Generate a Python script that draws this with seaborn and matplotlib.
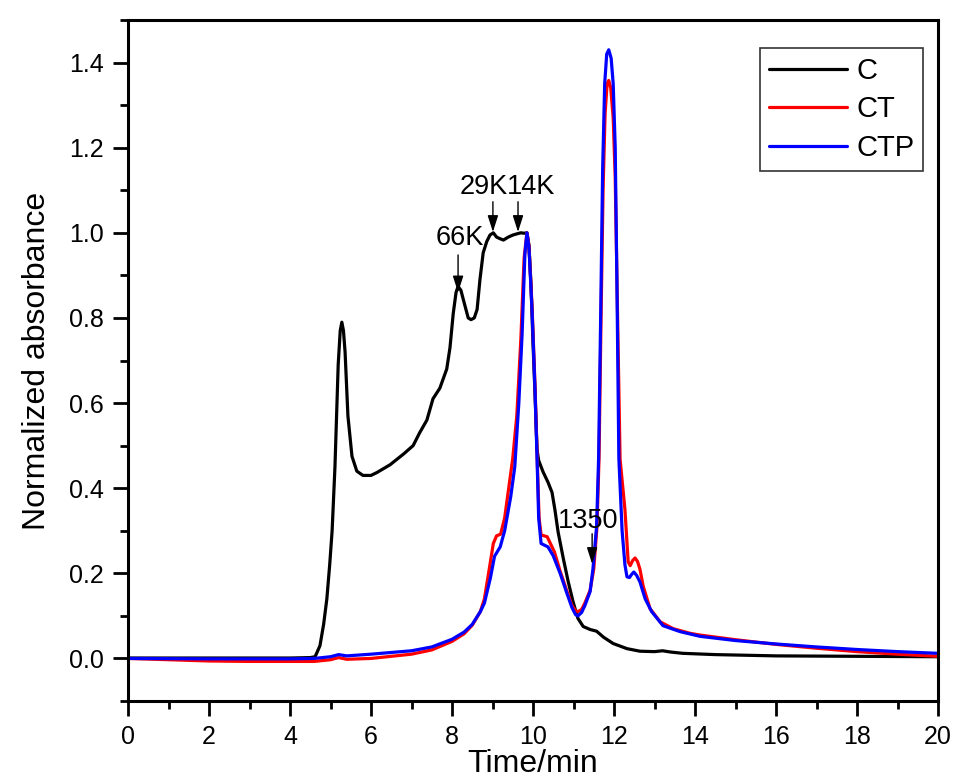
import numpy as np
import pandas as pd
import matplotlib
matplotlib.use("Agg")
import matplotlib.pyplot as plt
from matplotlib.ticker import MultipleLocator
import seaborn as sns

# ---------------- data ----------------
series_names = ["C", "CT", "CTP"]
series_colors = ["#000000", "#ff0000", "#0000ff"]

t_C = [0, 1, 2, 3, 4, 4.5, 4.62, 4.74, 4.83, 4.91, 4.98, 5.04, 5.11, 5.19, 5.24,
       5.28, 5.32, 5.36, 5.43, 5.53, 5.65, 5.8, 6.0, 6.15, 6.47, 6.8, 7.04, 7.2,
       7.38, 7.53, 7.7, 7.87, 7.95, 8.03, 8.1, 8.15, 8.22, 8.28, 8.4, 8.47, 8.55,
       8.62, 8.69, 8.77, 8.86, 8.94, 9.02, 9.1, 9.19, 9.27, 9.39, 9.51, 9.62, 9.7,
       9.78, 9.85, 9.9, 9.95, 10.0, 10.05, 10.1, 10.14, 10.25, 10.37, 10.47, 10.54,
       10.62, 10.75, 10.87, 10.99, 11.11, 11.24, 11.41, 11.57, 11.74, 11.98, 12.32,
       12.64, 13.0, 13.2, 13.4, 13.7, 14.5, 16, 18, 20]
v_C = [0.001, 0.001, 0.001, 0.001, 0.001, 0.002, 0.004, 0.03, 0.08, 0.14, 0.22,
       0.30, 0.45, 0.69, 0.77, 0.79, 0.77, 0.72, 0.57, 0.475, 0.44, 0.43, 0.43,
       0.437, 0.455, 0.48, 0.50, 0.53, 0.56, 0.61, 0.635, 0.68, 0.73, 0.81, 0.86,
       0.874, 0.865, 0.843, 0.80, 0.796, 0.80, 0.82, 0.89, 0.953, 0.98, 0.995, 1.0,
       0.99, 0.986, 0.983, 0.99, 0.995, 0.998, 1.0, 0.999, 1.0, 0.97, 0.88, 0.74,
       0.62, 0.49, 0.465, 0.438, 0.414, 0.39, 0.35, 0.297, 0.234, 0.18, 0.133,
       0.094, 0.075, 0.068, 0.064, 0.05, 0.035, 0.023, 0.017, 0.016, 0.018, 0.015,
       0.012, 0.009, 0.006, 0.005, 0.004]

t_CT = [0, 1, 2, 3, 4, 4.6, 5.0, 5.2, 5.4, 6.0, 7.0, 7.5, 8.0, 8.3, 8.5, 8.7, 8.8,
        8.92, 9.02, 9.1, 9.2, 9.3, 9.4, 9.5, 9.6, 9.7, 9.78, 9.85, 9.9, 9.98, 10.05,
        10.1, 10.15, 10.2, 10.35, 10.53, 10.67, 10.83, 10.96, 11.05, 11.11, 11.2,
        11.28, 11.41, 11.5, 11.58, 11.63, 11.68, 11.73, 11.78, 11.83, 11.87, 11.92,
        11.98, 12.03, 12.08, 12.15, 12.27, 12.35, 12.4, 12.46, 12.52, 12.58, 12.64,
        12.72, 12.89, 13.14, 13.46, 13.88, 14.12, 15, 16, 17, 18, 19, 20]
v_CT = [0.0, -0.003, -0.006, -0.007, -0.007, -0.007, -0.003, 0.002, -0.002, 0.0,
        0.01, 0.02, 0.04, 0.058, 0.078, 0.11, 0.14, 0.21, 0.27, 0.288, 0.292, 0.33,
        0.40, 0.47, 0.57, 0.75, 0.94, 1.0, 0.97, 0.82, 0.64, 0.48, 0.33, 0.29,
        0.286, 0.25, 0.205, 0.16, 0.125, 0.112, 0.11, 0.115, 0.13, 0.16, 0.21,
        0.31, 0.47, 0.8, 1.1, 1.28, 1.35, 1.358, 1.34, 1.27, 1.13, 0.85, 0.468,
        0.35, 0.227, 0.218, 0.23, 0.236, 0.228, 0.21, 0.17, 0.117, 0.086, 0.07,
        0.059, 0.055, 0.044, 0.033, 0.024, 0.016, 0.01, 0.005]

t_CTP = [0, 2, 4, 4.6, 5.0, 5.2, 5.4, 6.0, 7.0, 7.5, 8.0, 8.3, 8.5, 8.7, 8.8, 8.95,
         9.05, 9.19, 9.3, 9.45, 9.55, 9.65, 9.73, 9.8, 9.85, 9.9, 9.98, 10.05, 10.1,
         10.14, 10.2, 10.37, 10.5, 10.67, 10.83, 10.96, 11.05, 11.11, 11.2, 11.28,
         11.41, 11.48, 11.57, 11.62, 11.67, 11.72, 11.77, 11.82, 11.87, 11.93,
         11.98, 12.03, 12.07, 12.12, 12.2, 12.27, 12.32, 12.38, 12.44, 12.49, 12.56,
         12.64, 12.77, 12.93, 13.21, 13.63, 14.12, 15, 16, 17, 18, 19, 20]
v_CTP = [0.0, -0.001, -0.001, 0.0, 0.004, 0.009, 0.006, 0.01, 0.018, 0.027, 0.045,
         0.062, 0.08, 0.11, 0.13, 0.19, 0.24, 0.262, 0.30, 0.38, 0.45, 0.6, 0.76,
         0.95, 1.0, 0.967, 0.81, 0.63, 0.47, 0.33, 0.27, 0.262, 0.241, 0.2, 0.155,
         0.12, 0.103, 0.1, 0.108, 0.124, 0.157, 0.21, 0.31, 0.47, 0.8, 1.15, 1.35,
         1.42, 1.43, 1.41, 1.35, 1.2, 0.9, 0.47, 0.3, 0.22, 0.192, 0.19, 0.198,
         0.203, 0.195, 0.18, 0.14, 0.11, 0.077, 0.063, 0.052, 0.042, 0.034, 0.027,
         0.021, 0.016, 0.012]

# annotations: label, arrow x, arrow tail y, arrow tip y, label x, label y
ann_labels = ["66K", "29K", "14K", "1350"]
ann_x = [8.15, 9.01, 9.63, 11.46]
ann_tail = [0.948, 1.073, 1.073, 0.293]
ann_tip = [0.86, 1.002, 1.002, 0.222]
ann_tx = [8.2, 8.79, 9.95, 11.36]
ann_ty = [0.988, 1.108, 1.108, 0.323]

x_ticks = list(range(0, 21, 2))
y_ticks = [0.0, 0.2, 0.4, 0.6, 0.8, 1.0, 1.2, 1.4]

# ---------------- build table ----------------
df = pd.concat([
    pd.DataFrame({"Time": t_C, "Abs": v_C, "Sample": "C"}),
    pd.DataFrame({"Time": t_CT, "Abs": v_CT, "Sample": "CT"}),
    pd.DataFrame({"Time": t_CTP, "Abs": v_CTP, "Sample": "CTP"}),
], ignore_index=True)

sns.set_style("ticks")
plt.rcParams["font.family"] = ["Liberation Sans", "DejaVu Sans"]
plt.rcParams["text.color"] = "black"
plt.rcParams["axes.labelcolor"] = "black"
plt.rcParams["xtick.color"] = "black"
plt.rcParams["ytick.color"] = "black"

fig = plt.figure(figsize=(9.58, 7.84), dpi=100)
ax = fig.add_axes([128 / 958, 1 - 701 / 784, 810 / 958, 681 / 784])

sns.lineplot(data=df, x="Time", y="Abs", hue="Sample", hue_order=series_names,
             palette=dict(zip(series_names, series_colors)), sort=False,
             estimator=None, linewidth=2.3, ax=ax)

ax.set_xlim(0, 20)
ax.set_ylim(-0.1, 1.5)
ax.set_xticks(x_ticks)
ax.set_yticks(y_ticks)
ax.set_yticklabels([f"{v:.1f}" for v in y_ticks])
ax.xaxis.set_minor_locator(MultipleLocator(1))
ax.yaxis.set_minor_locator(MultipleLocator(0.1))
ax.tick_params(which="major", direction="out", length=10.5, width=2.0,
               labelsize=18, color="black", labelcolor="black")
ax.tick_params(axis="x", which="major", pad=7)
ax.tick_params(axis="y", which="major", pad=7)
ax.tick_params(which="minor", direction="out", length=6, width=2.0, color="black")
ax.tick_params(top=False, right=False, which="both")
for s in ax.spines.values():
    s.set_visible(True)
    s.set_linewidth(2.2)
    s.set_color("black")

ax.set_xlabel("Time/min", fontsize=23, labelpad=0)
ax.set_ylabel("Normalized absorbance", fontsize=23, labelpad=12)

handles, labels = ax.get_legend_handles_labels()
leg = ax.legend(handles, labels, loc="upper right",
                bbox_to_anchor=((923 - 128) / 810, (701 - 48) / 681),
                borderaxespad=0, fontsize=21, frameon=True, fancybox=False,
                handlelength=2.7, handletextpad=0.3, labelspacing=0.36,
                borderpad=0.3)
leg.get_frame().set_edgecolor("black")
leg.get_frame().set_linewidth(1.2)
for h in leg.get_lines():
    h.set_linewidth(2.3)

for lab, x, ta, tp, tx, ty in zip(ann_labels, ann_x, ann_tail, ann_tip, ann_tx, ann_ty):
    ax.annotate("", xy=(x, tp), xytext=(x, ta),
                arrowprops=dict(arrowstyle="-|>,head_length=1.0,head_width=0.32",
                                mutation_scale=10, color="black", lw=1.0,
                                shrinkA=0, shrinkB=0))
    ax.text(tx, ty, lab, ha="center", va="center", fontsize=19.5, color="black")

fig.savefig("out.png", dpi=100)
